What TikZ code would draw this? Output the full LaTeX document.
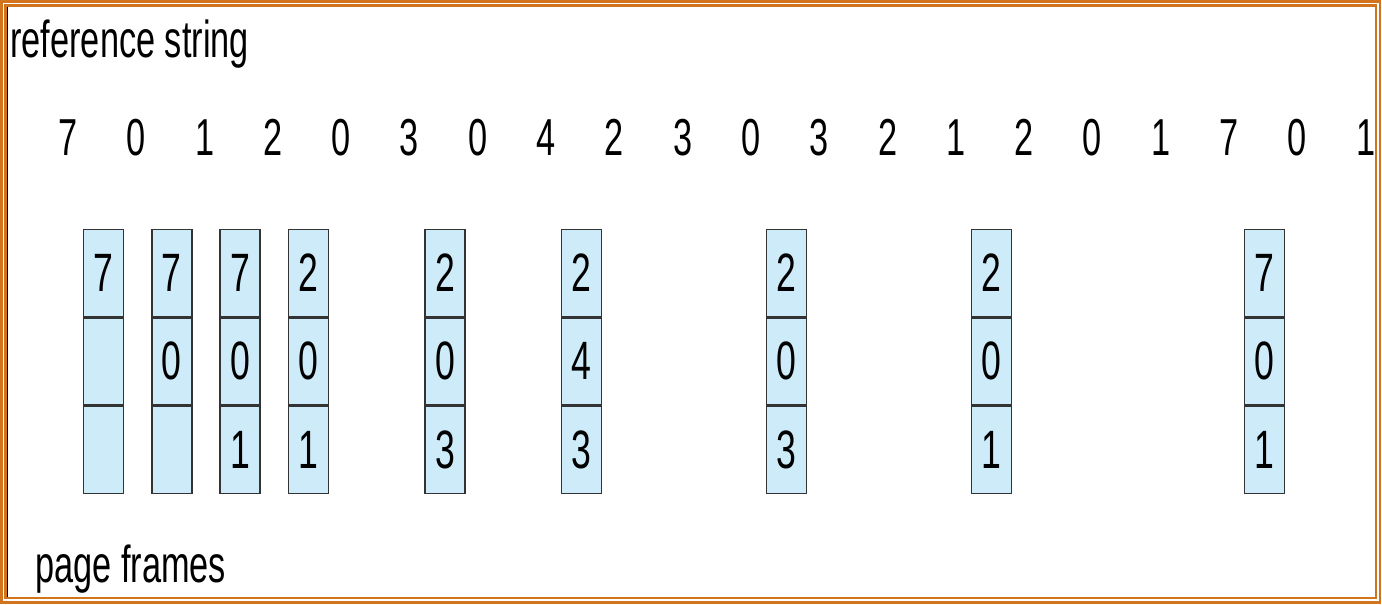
\documentclass[tikz,border=0pt]{standalone}
\usepackage{fontspec}
\setmainfont{Liberation Sans}
\definecolor{frameorange}{HTML}{D2741E}
\definecolor{cellblue}{HTML}{CDEBF9}
\definecolor{celledge}{HTML}{333333}
\newcommand{\nx}[1]{\scalebox{0.66}[1]{#1}}
\tikzset{
  px/.style={x=0.5pt,y=-0.5pt},
  lbl/.style={inner sep=0pt,anchor=base west,font=\fontsize{26}{28}\selectfont},
  refnum/.style={inner sep=0pt,anchor=base,font=\fontsize{26}{28}\selectfont},
  cell/.style={draw=celledge,fill=cellblue,line width=0.7pt,minimum width=20pt,minimum height=43.5pt,inner sep=0pt,font=\fontsize{27}{28}\selectfont},
  orangeline/.style={draw=frameorange,line width=1.1pt}
}
\begin{document}
\begin{tikzpicture}[px]
\useasboundingbox (0,0) rectangle (1382,605);
\fill[white] (0,0) rectangle (1382,605);
% frame
\draw[orangeline] (1.5,1.5) rectangle (1380,602.5);
\draw[orangeline] (5.5,5.5) rectangle (1376,598);
\draw[black,line width=0.8pt] (7.5,6.5) -- (7.5,597);
% labels
\node[lbl] (rs) at (10,57) {\nx{reference string}};
\node[lbl] (pf) at (35,582) {\nx{page frames}};
% reference string
\foreach \v [count=\i from 0] in {7,0,1,2,0,3,0,4,2,3,0,3,2,1,2,0,1,7,0,1} {
  \node[refnum] (s\i) at ({68+68.3*\i},155) {\nx{\v}};
}
% frames
\foreach \i/\a/\b/\c in {0/7//, 1/7/0/, 2/7/0/1, 3/2/0/1, 5/2/0/3, 7/2/4/3, 10/2/0/3, 13/2/0/1, 17/7/0/1} {
  \node[cell] (f\i a) at ({103.5+68.3*\i},273) {\nx{\a}};
  \node[cell,anchor=north] (f\i b) at (f\i a.south) {\nx{\b}};
  \node[cell,anchor=north] (f\i c) at (f\i b.south) {\nx{\c}};
}
\end{tikzpicture}
\end{document}
